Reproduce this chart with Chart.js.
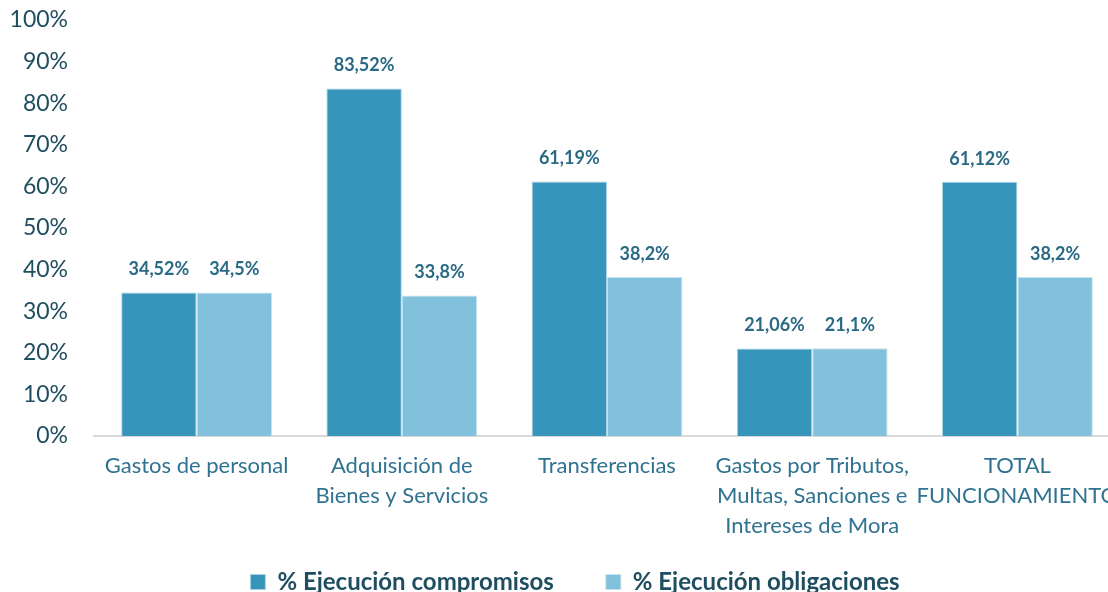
<!DOCTYPE html>
<html>
<head>
<meta charset="utf-8">
<script src="https://cdn.jsdelivr.net/npm/chart.js@4.4.0/dist/chart.umd.min.js"></script>
<style>
  html, body { margin: 0; padding: 0; background: #fff; overflow: hidden; }
  #wrap { width: 1120px; height: 604px; }
</style>
</head>
<body>
<div id="wrap"><canvas id="chartEjecucion"></canvas></div>
<script>
// DATA
var categorias = [
    "Gastos de personal",
    ["Adquisición de", "Bienes y Servicios"],
    "Transferencias",
    ["Gastos por Tributos,", "Multas, Sanciones e", "Intereses de Mora"],
    ["TOTAL", "FUNCIONAMIENTO"],
];
var compromisos = [34.52, 83.52, 61.19, 21.06, 61.12];
var obligaciones = [34.5, 33.8, 38.2, 21.1, 38.2];
var etiquetasCompromisos = ["34,52%", "83,52%", "61,19%", "21,06%", "61,12%"];
var etiquetasObligaciones = ["34,5%", "33,8%", "38,2%", "21,1%", "38,2%"];
var ticksY = [0, 10, 20, 30, 40, 50, 60, 70, 80, 90, 100];

var fuente = "Lato, 'Open Sans', sans-serif";

// value labels above each bar
var etiquetasBarras = {
    id: "etiquetasBarras",
    afterLayout: function (chart) {
        // center legend like the original and let the 3-line labels show
        chart.legend.left += 30;
        chart.scales.x.bottom = chart.height;
    },
    afterDatasetsDraw: function (chart) {
        var ctx = chart.ctx;
        ctx.save();
        ctx.font = "bold 18px " + fuente;
        ctx.fillStyle = "#2B6A84";
        ctx.textAlign = "center";
        ctx.textBaseline = "middle";
        chart.data.datasets.forEach(function (ds, i) {
            var meta = chart.getDatasetMeta(i);
            meta.data.forEach(function (bar, j) {
                ctx.fillText(ds.etiquetas[j], bar.x, bar.y - 23);
            });
        });
        ctx.restore();
    },
};

var ctx = document.getElementById("chartEjecucion").getContext("2d");
new Chart(ctx, {
    type: "bar",
    data: {
        labels: categorias,
        datasets: [
            {
                label: "% Ejecución compromisos",
                data: compromisos,
                etiquetas: etiquetasCompromisos,
                backgroundColor: "#3795BB",
                borderColor: "#A9D4E6",
                borderWidth: 1,
                categoryPercentage: 0.735,
                barPercentage: 1,
            },
            {
                label: "% Ejecución obligaciones",
                data: obligaciones,
                etiquetas: etiquetasObligaciones,
                backgroundColor: "#81C1DB",
                borderColor: "#C4E2EE",
                borderWidth: 1,
                categoryPercentage: 0.735,
                barPercentage: 1,
            },
        ],
    },
    options: {
        responsive: true,
        maintainAspectRatio: false,
        animation: false,
        layout: {
            padding: { top: 20, left: 0, right: 0, bottom: 0 },
        },
        scales: {
            y: {
                min: 0,
                max: 100,
                afterBuildTicks: function (scale) {
                    scale.ticks = ticksY.map(function (v) { return { value: v }; });
                },
                afterFit: function (scale) {
                    scale.width = 94;
                    scale.paddingTop = 0;
                    scale.paddingBottom = 0;
                },
                grid: { display: false, drawTicks: false },
                border: { display: false },
                ticks: {
                    padding: 26,
                    color: "#1F4E60",
                    font: { family: fuente, size: 23 },
                    callback: function (v) { return v + "%"; },
                },
            },
            x: {
                grid: { display: false, drawTicks: false },
                border: { display: true, color: "#D9D9D9", width: 2 },
                afterFit: function (scale) {
                    scale.height = 82;
                    scale.paddingLeft = 0;
                    scale.paddingRight = 0;
                },
                ticks: {
                    padding: 15,
                    maxRotation: 0,
                    autoSkip: false,
                    color: "#2F7391",
                    font: { family: fuente, size: 22, lineHeight: 1.36 },
                },
            },
        },
        plugins: {
            legend: {
                position: "bottom",
                labels: {
                    boxWidth: 15,
                    boxHeight: 15,
                    padding: 52,
                    color: "#1F4E60",
                    font: { family: fuente, size: 24, weight: "bold" },
                },
            },
            tooltip: { enabled: false },
        },
    },
    plugins: [etiquetasBarras],
});
</script>
</body>
</html>
